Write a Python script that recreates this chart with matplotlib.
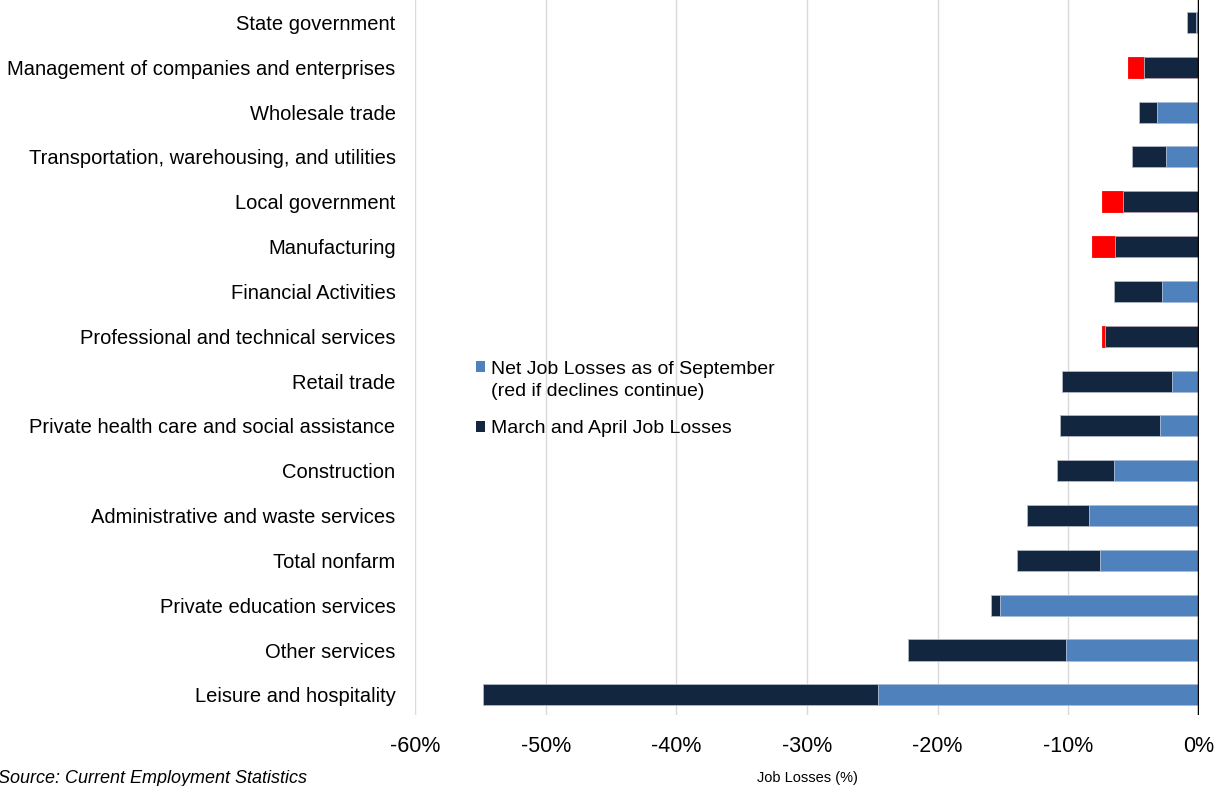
import matplotlib.pyplot as plt
from matplotlib.patches import Patch
from matplotlib.ticker import FuncFormatter

plt.rcParams['font.family'] = ['Liberation Sans', 'DejaVu Sans']

# categories, top to bottom
categories = [
    "State government",
    "Management of companies and enterprises",
    "Wholesale trade",
    "Transportation, warehousing, and utilities",
    "Local government",
    "Manufacturing",
    "Financial Activities",
    "Professional and technical services",
    "Retail trade",
    "Private health care and social assistance",
    "Construction",
    "Administrative and waste services",
    "Total nonfarm",
    "Private education services",
    "Other services",
    "Leisure and hospitality",
]
# March and April job losses (%)
march_april = [-0.9, -4.2, -4.6, -5.1, -5.8, -6.4, -6.5, -7.2, -10.5, -10.6,
               -10.9, -13.2, -13.9, -15.9, -22.3, -54.8]
# Net job losses as of September (%)
net_sept = [-0.2, -5.4, -3.2, -2.5, -7.4, -8.2, -2.8, -7.4, -2.1, -3.0,
            -6.5, -8.4, -7.6, -15.2, -10.2, -24.6]

NAVY = '#12263f'
BLUE = '#4f81bd'
RED = '#ff0000'

fig = plt.figure(figsize=(12.19, 7.86), dpi=100)
ax = fig.add_axes([415 / 1219, 1 - 715 / 786, (1199 - 415) / 1219, 715 / 786])

n = len(categories)
ypos = [n - 1 - i for i in range(n)]
h = 0.47

dark = ax.barh(ypos, march_april, height=h, color=NAVY, edgecolor='#b0b8c4', linewidth=0.6)
net_colors = [RED if s < m else BLUE for s, m in zip(net_sept, march_april)]
net = ax.barh(ypos, net_sept, height=h, color=net_colors, edgecolor='#b0c4de', linewidth=0.6)

# longer bar behind, shorter bar in front
for d, s, mv, sv in zip(dark, net, march_april, net_sept):
    if sv < mv:
        s.set_zorder(2)
        s.set_edgecolor(RED)
        d.set_zorder(3)
    else:
        d.set_zorder(2)
        s.set_zorder(3)

ax.set_xlim(-60, 0)
ax.set_ylim(-0.45, n - 0.5)
ax.set_xticks(range(-60, 1, 10))
ax.xaxis.set_major_formatter(FuncFormatter(lambda v, p: f"{int(v)}%"))
ax.set_yticks(ypos)
ax.set_yticklabels(categories, fontsize=14.5)
ax.tick_params(axis='y', length=0, pad=14)
ax.tick_params(axis='x', length=0, pad=15, labelsize=15.5)
ax.grid(axis='x', color='#d9d9d9', linewidth=1)
ax.set_axisbelow(True)
for sp in ['top', 'left', 'bottom', 'right']:
    ax.spines[sp].set_visible(False)
ax.axvline(0, color='black', linewidth=2.5, zorder=5)

ax.set_xlabel("Job Losses (%)", fontsize=10.5, labelpad=10)

# legend: handle sits on the first line of the first entry
leg_kw = dict(frameon=False, fontsize=14, handlelength=0.5, handleheight=0.5,
              handletextpad=0.3, loc='upper left')
fig.legend([Patch(facecolor=BLUE), Patch(facecolor='none', edgecolor='none')],
           ["Net Job Losses as of September", "(red if declines continue)"],
           bbox_to_anchor=(458 / 1219, 1 - 343 / 786), labelspacing=0.3, **leg_kw)
fig.legend([Patch(facecolor=NAVY)], ["March and April Job Losses"],
           bbox_to_anchor=(458 / 1219, 1 - 403 / 786), **leg_kw)

fig.text(-0.002, 3 / 786, "Source: Current Employment Statistics", fontsize=13,
         style='italic', ha='left', va='baseline')

fig.savefig('out.png', dpi=100)
